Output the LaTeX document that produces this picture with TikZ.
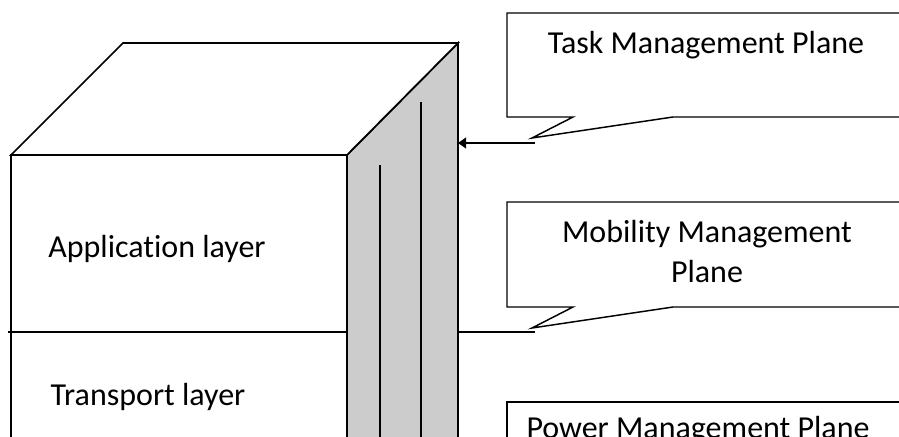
\documentclass[tikz,border=0pt]{standalone}
\usepackage{fontspec}
\setmainfont{Carlito}[Ligatures=NoCommon]
\usetikzlibrary{arrows.meta}
\begin{document}
\begin{tikzpicture}[x=0.75pt,y=-0.75pt,
  edge/.style={line width=1.3pt,line join=miter,line cap=rect},
  bubble/.style={line width=1.1pt,line join=miter,fill=white},
  txt/.style={font=\fontsize{24}{30}\selectfont,inner sep=0pt,anchor=base,align=center},
  sideface/.style={fill=black!20}
]
\useasboundingbox (0,0) rectangle (899,436);
\clip (0,0) rectangle (899,436);

% corners of the stack
\coordinate (ftl) at (11,155);
\coordinate (ftr) at (347,155);
\coordinate (btl) at (123,43);
\coordinate (btr) at (458,43);
\coordinate (fbl) at (11,450);
\coordinate (fbr) at (347,450);
\coordinate (bbr) at (458,450);

% shaded side face with its plane dividers
\fill[sideface] (ftr) -- (btr) -- (bbr) -- (fbr) -- cycle;
\draw[edge] (380,166) coordinate (d1top) -- (380,450) coordinate (d1bot);
\draw[edge] (421,103) coordinate (d2top) -- (421,450) coordinate (d2bot);
\draw[edge] (fbr) -- (ftr) -- (btr) -- (bbr);

% top face
\draw[edge,fill=white] (ftl) -- (btl) -- (btr) -- (ftr) -- cycle;

% front face and layer divider
\draw[edge] (ftl) -- (fbl);
\draw[edge] (9,332) coordinate (divl) -- (347,332) coordinate (divr);

\node[txt] (app) at (157,257) {Application layer};
\node[txt] (trans) at (148,405) {Transport layer};

% callouts
\draw[bubble] (507,13) -- (910,13) -- (910,117) -- (673,117)
  -- (532,138) coordinate (taskTip) -- (573,117) -- (507,117) -- cycle;
\node[txt] (task) at (706,53) {Task Management Plane};

\draw[bubble] (507,202) -- (910,202) -- (910,307) -- (673,307)
  -- (532,328) coordinate (mobTip) -- (573,307) -- (507,307) -- cycle;
\node[txt] (mob) at (707,282) {Mobility Management\\Plane};

\draw[bubble] (507,402) -- (910,402) -- (910,500) -- (507,500) -- cycle;
\node[txt] (pow) at (698,438) {Power Management Plane};

% leaders into the side face
\coordinate (taskFoot) at (535,143);
\coordinate (taskHit) at (458,143);
\coordinate (mobFoot) at (535,332);
\coordinate (mobHit) at (459,332);
\draw[line width=1.3pt,-{Triangle[length=6pt,width=8pt]}] (taskFoot) -- (taskHit);
\draw[line width=1.3pt] (mobFoot) -- (mobHit);
\end{tikzpicture}
\end{document}
